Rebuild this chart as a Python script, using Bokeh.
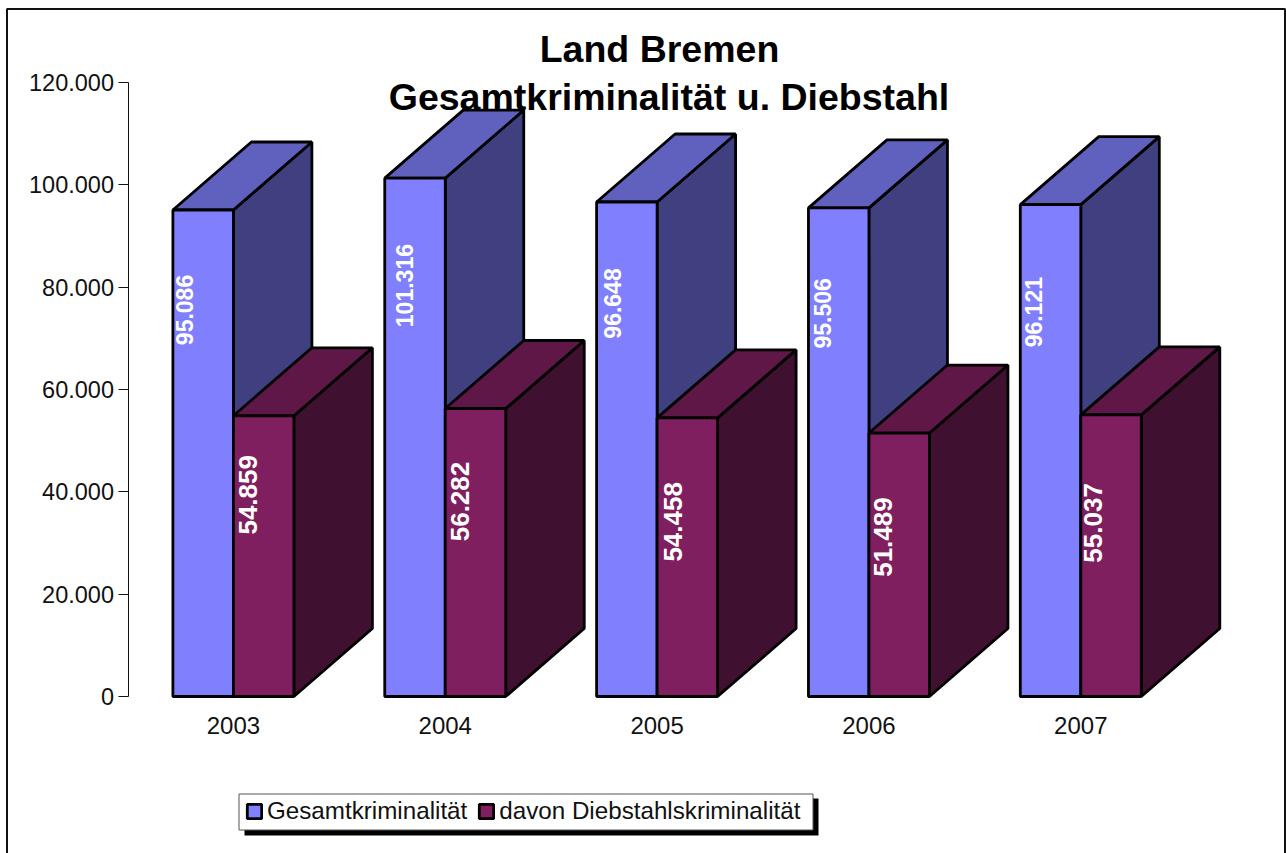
from bokeh.plotting import figure
from bokeh.models import (Range1d, LinearAxis, FixedTicker, Legend, LegendItem,
                          BoxAnnotation, Label)
from bokeh.core.properties import value
from bokeh.embed import file_html
from bokeh.resources import INLINE

years = ["2003", "2004", "2005", "2006", "2007"]
gesamt = [95086, 101316, 96648, 95506, 96121]
diebstahl = [54859, 56282, 54458, 51489, 55037]
gesamt_labels = ["95.086", "101.316", "96.648", "95.506", "96.121"]
diebstahl_labels = ["54.859", "56.282", "54.458", "51.489", "55.037"]
y_ticks = [0, 20000, 40000, 60000, 80000, 100000, 120000]
y_tick_labels = ["0", "20.000", "40.000", "60.000", "80.000", "100.000", "120.000"]
names = ["Gesamtkriminalität", "davon Diebstahlskriminalität"]
title_lines = ["Land Bremen", "Gesamtkriminalität u. Diebstahl"]

FONT = "Liberation Sans"
W, H = 1286, 853
PX_PER_CAT = 211.85
CAT0_PX = 232.9
PX_PER_VAL = 614 / 120000
ZERO_PX = 696
BAR = 60.5 / PX_PER_CAT
DX = 78.5 / PX_PER_CAT
DY = 68 / PX_PER_VAL
EDGE = 2.8

x_range = Range1d(-CAT0_PX / PX_PER_CAT, (W - CAT0_PX) / PX_PER_CAT)
y_range = Range1d((ZERO_PX - H) / PX_PER_VAL, ZERO_PX / PX_PER_VAL)

p = figure(width=W, height=H, x_range=x_range, y_range=y_range, output_backend="svg",
           toolbar_location=None, min_border=0, x_axis_type=None, y_axis_type=None)
p.grid.visible = False
p.background_fill_color = "white"
p.border_fill_color = "white"
p.outline_line_color = None


def screen_box(left, right, top, bottom, **kw):
    return BoxAnnotation(left=left, right=right, top=H - top, bottom=H - bottom,
                         left_units="screen", right_units="screen",
                         top_units="screen", bottom_units="screen", **kw)


# chart-area border
p.add_layout(screen_box(6.5, W - 1.5, 8.5, H + 10, fill_alpha=0, line_color="#111111",
                        line_alpha=1, line_width=2, level="underlay"))


def box3d(left, vals, front, top, side):
    n = range(len(vals))
    l = [left + i for i in n]
    r = [a + BAR for a in l]
    p.patches([[r[i], r[i] + DX, r[i] + DX, r[i]] for i in n],
              [[0, DY, vals[i] + DY, vals[i]] for i in n],
              fill_color=side, line_color="black", line_width=EDGE)
    p.patches([[l[i], l[i] + DX, r[i] + DX, r[i]] for i in n],
              [[vals[i], vals[i] + DY, vals[i] + DY, vals[i]] for i in n],
              fill_color=top, line_color="black", line_width=EDGE)
    return p.quad(left=l, right=r, bottom=[0] * len(vals), top=vals,
                  fill_color=front, line_color="black", line_width=EDGE)


r1 = box3d(-BAR, gesamt, "#8080FF", "#6060BF", "#404080")
r2 = box3d(0, diebstahl, "#7F1F5F", "#5F1747", "#401030")

blue_dx = [12, 19.5, 15.5, 14.5, 13]
blue_dy = [100, 107.5, 101.5, 105.5, 107.5]
purple_dx = [14.5, 14.5, 15.5, 14, 12.5]
purple_dy = [79, 93, 104, 104, 108]
p.text(x=[i - BAR for i in range(5)], y=gesamt, text=gesamt_labels,
       x_offset=blue_dx, y_offset=blue_dy, angle=1.5708, text_align="center",
       text_baseline="middle", text_color="white", text_font=value(FONT),
       text_font_style="bold", text_font_size="23px")
p.text(x=[i for i in range(5)], y=diebstahl, text=diebstahl_labels,
       x_offset=purple_dx, y_offset=purple_dy, angle=1.5708, text_align="center",
       text_baseline="middle", text_color="white", text_font=value(FONT),
       text_font_style="bold", text_font_size="26px")

yaxis = LinearAxis(ticker=FixedTicker(ticks=y_ticks), bounds=(0, 120000),
                   fixed_location=(127.5 - CAT0_PX) / PX_PER_CAT)
yaxis.major_label_overrides = dict(zip(y_ticks, y_tick_labels))
yaxis.major_label_text_font = FONT
yaxis.major_label_text_font_size = "23.5px"
yaxis.major_label_text_color = "#111111"
yaxis.major_label_standoff = 4
yaxis.major_tick_in = 0
yaxis.major_tick_out = 10
yaxis.minor_tick_line_color = None
yaxis.axis_line_color = "#111111"
yaxis.major_tick_line_color = "#111111"
p.add_layout(yaxis, "left")

xaxis = LinearAxis(ticker=FixedTicker(ticks=list(range(5))), fixed_location=0)
xaxis.major_label_overrides = dict(enumerate(years))
xaxis.major_label_text_font = FONT
xaxis.major_label_text_font_size = "24px"
xaxis.major_label_text_color = "#111111"
xaxis.major_label_standoff = 14
xaxis.major_tick_line_color = None
xaxis.minor_tick_line_color = None
xaxis.axis_line_color = None
p.add_layout(xaxis, "below")

for line, cx, cy in zip(title_lines, (659, 668.5), (48, 96)):
    p.add_layout(Label(x=cx, y=H - cy, x_units="screen", y_units="screen",
                       text=line, text_align="center", text_baseline="middle",
                       text_font=FONT, text_font_style="bold", text_font_size="37.5px",
                       text_color="black"))

# legend: drop shadow, box, then the entries
p.add_layout(screen_box(244, 818, 798, 835, fill_color="black", fill_alpha=1,
                        line_color="black", line_alpha=1, line_width=0))
p.add_layout(screen_box(238.5, 812.5, 793.5, 829.5, fill_color="white", fill_alpha=1,
                        line_color="#555555", line_alpha=1, line_width=1))
legend = Legend(items=[LegendItem(label=names[0], renderers=[r1]),
                       LegendItem(label=names[1], renderers=[r2])],
                orientation="horizontal", location=(245, H - 824.5),
                label_text_font=FONT, label_text_font_size="24.2px",
                label_text_color="#111111", label_standoff=4, spacing=10,
                glyph_width=18, glyph_height=18, padding=0, margin=0,
                border_line_color=None, background_fill_alpha=0)
p.add_layout(legend, "center")

open("out.html", "w").write(file_html(p, INLINE))
